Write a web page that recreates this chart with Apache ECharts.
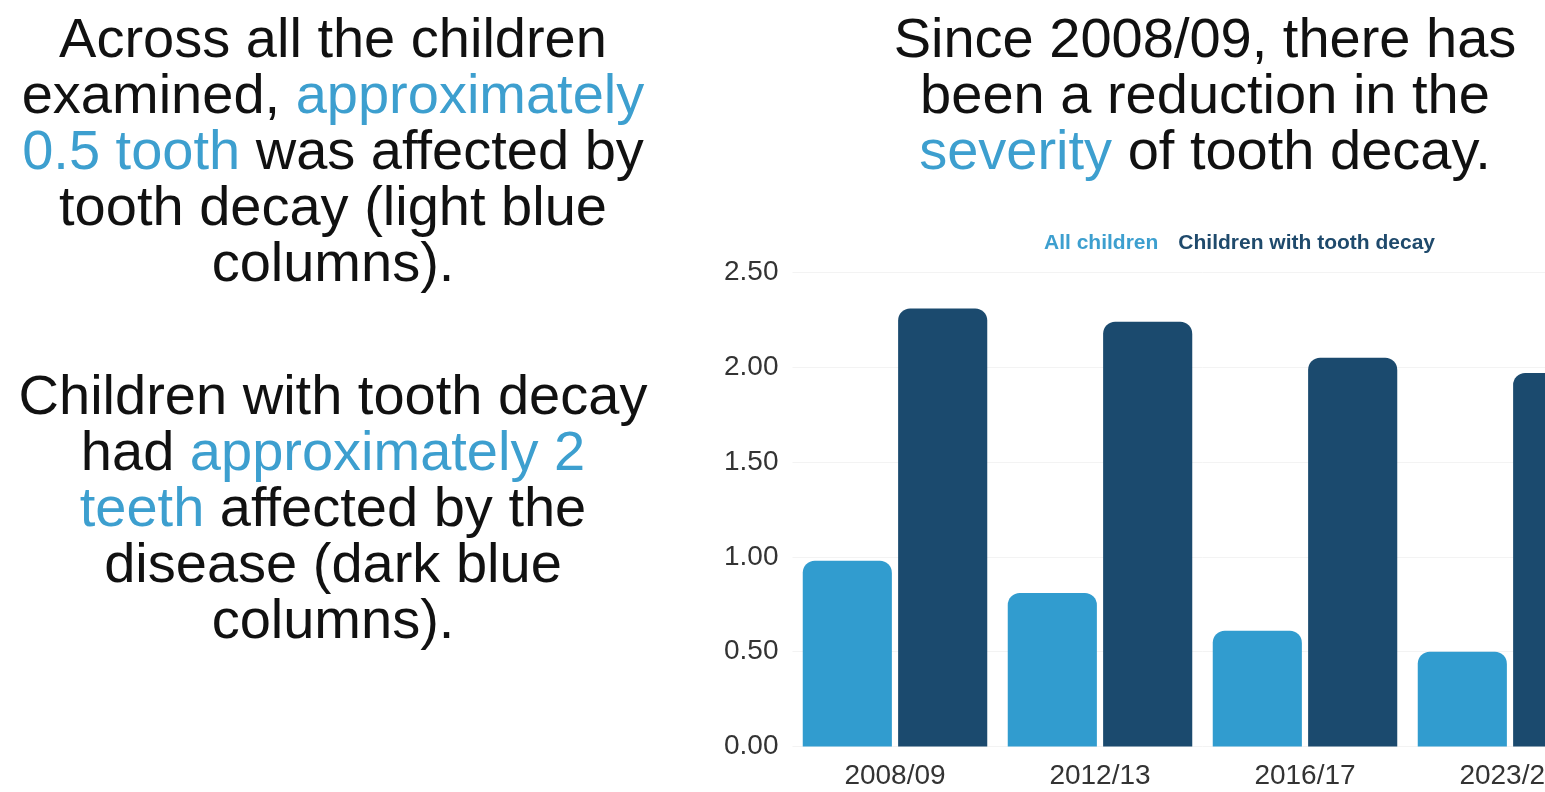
<!DOCTYPE html>
<html>
<head>
<meta charset="utf-8">
<script src="https://cdn.jsdelivr.net/npm/echarts@6/dist/echarts.min.js"></script>
<style>
  html, body { margin: 0; padding: 0; width: 1545px; height: 792px; overflow: hidden; background: #ffffff; }
  .txt { position: absolute; font-family: "Liberation Sans", Arial, sans-serif; font-size: 56px; line-height: 56px; color: #111111; text-align: center; white-space: nowrap; }
  .hl { color: #3d9fcf; }
  #chart { position: absolute; left: 0; top: 0; width: 1700px; height: 792px; }
</style>
</head>
<body>
<div id="chart"></div>
<div class="txt" style="left:0; width:666px; top:10px;">Across all the children<br>examined, <span class="hl">approximately</span><br><span class="hl">0.5 tooth</span> was affected by<br>tooth decay (light blue<br>columns).</div>
<div class="txt" style="left:0; width:666px; top:367px;">Children with tooth decay<br>had <span class="hl">approximately 2</span><br><span class="hl">teeth</span> affected by the<br>disease (dark blue<br>columns).</div>
<div class="txt" style="left:805px; width:800px; top:10px;">Since 2008/09, there has<br>been a reduction in the<br><span class="hl">severity</span> of tooth decay.</div>
<script>
const categories = ['2008/09', '2012/13', '2016/17', '2023/24'];
const allChildren = [0.98, 0.81, 0.61, 0.50];
const withDecay = [2.31, 2.24, 2.05, 1.97];
const seriesNames = ['All children', 'Children with tooth decay'];
const yMin = 0, yMax = 2.5, yStep = 0.5;

const lightBlue = '#319ccf';
const darkBlue = '#1b4a6e';

const chart = echarts.init(document.getElementById('chart'), null, { renderer: 'canvas' });
chart.setOption({
  animation: false,
  backgroundColor: 'transparent',
  textStyle: { fontFamily: '"Liberation Sans", Arial, sans-serif' },
  legend: {
    left: 1034,
    top: 228,
    itemWidth: 0,
    itemHeight: 0,
    itemGap: 15,
    selectedMode: false,
    textStyle: { fontSize: 21, fontWeight: 'bold', fontFamily: '"Liberation Sans", Arial, sans-serif' },
    data: [
      { name: seriesNames[0], textStyle: { color: '#3d9fcf' } },
      { name: seriesNames[1], textStyle: { color: '#1f4a6c' } }
    ]
  },
  grid: { left: 792.5, top: 272.5, width: 820, height: 474, containLabel: false },
  xAxis: {
    type: 'category',
    data: categories,
    axisLine: { show: false },
    axisTick: { show: false },
    axisLabel: { color: '#333333', fontSize: 28, margin: 16 }
  },
  yAxis: {
    type: 'value',
    min: yMin,
    max: yMax,
    interval: yStep,
    axisLine: { show: false },
    axisTick: { show: false },
    splitLine: { show: true, lineStyle: { color: '#f3f3f3', width: 1 } },
    axisLabel: { color: '#333333', fontSize: 28, margin: 14, formatter: v => v.toFixed(2) }
  },
  series: [
    {
      name: seriesNames[0],
      type: 'bar',
      data: allChildren,
      barCategoryGap: '10%',
      barGap: '7%',
      itemStyle: { color: lightBlue, borderRadius: [12, 12, 0, 0] }
    },
    {
      name: seriesNames[1],
      type: 'bar',
      data: withDecay,
      barCategoryGap: '10%',
      barGap: '7%',
      itemStyle: { color: darkBlue, borderRadius: [12, 12, 0, 0] }
    }
  ]
});
</script>
</body>
</html>
